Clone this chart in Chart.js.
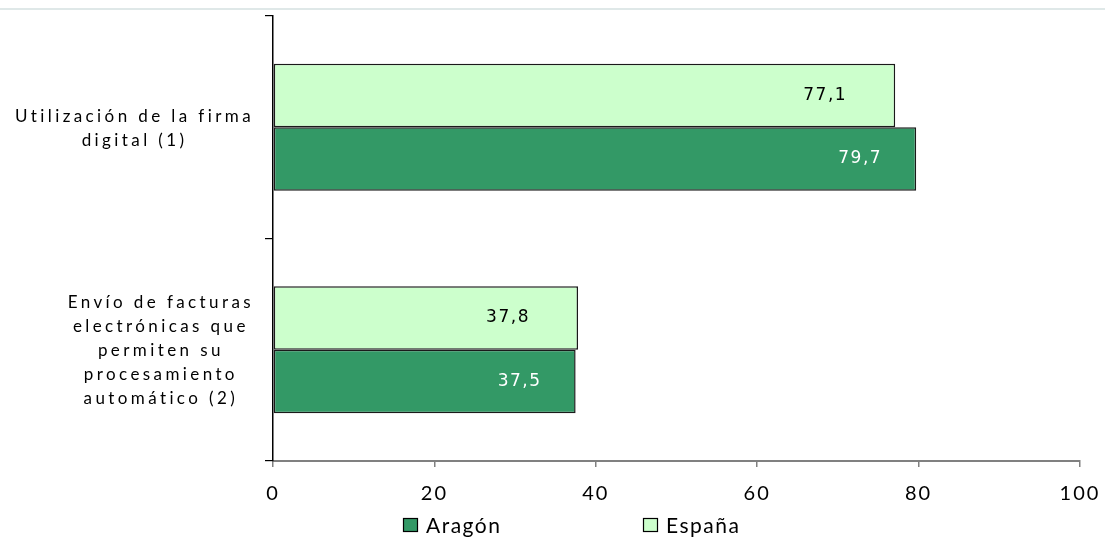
<!DOCTYPE html>
<html><head><meta charset="utf-8">
<script src="https://cdn.jsdelivr.net/npm/chart.js@4"></script>
<style>html,body{margin:0;padding:0;background:#fff;overflow:hidden}</style>
</head><body>
<canvas id="c" width="1105" height="537"></canvas>
<script>
const categories = [
  ["Utilización de la firma", "digital (1)"],
  ["Envío de facturas", "electrónicas que", "permiten su", "procesamiento", "automático (2)"]
];
const seriesNames = ["Aragón", "España"];
const aragonValues = [79.7, 37.5];
const espanaValues = [77.1, 37.8];
const xTickValues = [0, 20, 40, 60, 80, 100];

const COLORS = { "Aragón": "#339966", "España": "#CCFFCC" };
const LABEL_COLORS = { "Aragón": "#ffffff", "España": "#000000" };
const LABEL_OFFSETS = { "Aragón": 56, "España": 70 };

const fmt = v => v.toFixed(1).replace('.', ',');

const topLine = {
  id: 'topLine',
  beforeDraw(chart) {
    const ctx = chart.ctx;
    ctx.save();
    ctx.fillStyle = '#dfe8e8';
    ctx.fillRect(0, 8, chart.width, 2);
    ctx.restore();
    ctx.letterSpacing = '2px';
  },
  afterDraw(chart) {
    chart.ctx.letterSpacing = '0px';
  }
};

const catLabels = {
  id: 'catLabels',
  afterDraw(chart) {
    const ctx = chart.ctx;
    const y = chart.scales.y;
    ctx.save();
    ctx.font = '17px Lato';
    ctx.letterSpacing = '3.4px';
    ctx.fillStyle = '#000';
    ctx.textAlign = 'center';
    ctx.textBaseline = 'middle';
    const rightEdge = 254;
    const lh = 24;
    categories.forEach((lines, i) => {
      const maxW = Math.max(...lines.map(l => ctx.measureText(l).width));
      const cx = rightEdge - maxW / 2;
      const cy = y.getPixelForValue(i) + 1;
      const y0 = cy - (lines.length - 1) * lh / 2;
      lines.forEach((l, k) => ctx.fillText(l, cx, y0 + k * lh));
    });
    ctx.restore();
  }
};

const dataLabels = {
  id: 'dataLabels',
  afterDatasetsDraw(chart) {
    const ctx = chart.ctx;
    ctx.save();
    ctx.font = '17px "DejaVu Sans"';
    ctx.letterSpacing = '1.5px';
    ctx.textAlign = 'center';
    ctx.textBaseline = 'middle';
    chart.data.datasets.forEach((ds, di) => {
      const meta = chart.getDatasetMeta(di);
      meta.data.forEach((bar, i) => {
        ctx.fillStyle = LABEL_COLORS[ds.label];
        ctx.fillText(fmt(ds.data[i]), bar.x - LABEL_OFFSETS[ds.label], bar.y);
      });
    });
    ctx.restore();
  }
};

const customLegend = {
  id: 'customLegend',
  afterDraw(chart) {
    const ctx = chart.ctx;
    ctx.save();
    ctx.font = '21px Lato';
    ctx.letterSpacing = '1.5px';
    ctx.textBaseline = 'middle';
    ctx.textAlign = 'left';
    let x = 403;
    const cy = 525;
    seriesNames.forEach(name => {
      ctx.fillStyle = COLORS[name];
      ctx.fillRect(x, cy - 7, 15, 14);
      ctx.strokeStyle = '#000';
      ctx.lineWidth = 1.2;
      ctx.strokeRect(x + 0.5, cy - 6.5, 14, 13);
      ctx.fillStyle = '#000';
      ctx.fillText(name, x + 23, cy + 1);
      x += 240;
    });
    ctx.restore();
  }
};

new Chart(document.getElementById('c'), {
  type: 'bar',
  data: {
    labels: categories,
    datasets: [
      { label: "España", data: espanaValues, backgroundColor: COLORS["España"], borderColor: '#1a1a1a', borderWidth: 1.5, borderSkipped: false, barPercentage: 1.0, categoryPercentage: 0.57 },
      { label: "Aragón", data: aragonValues, backgroundColor: COLORS["Aragón"], borderColor: '#1a1a1a', borderWidth: 1.5, borderSkipped: false, barPercentage: 1.0, categoryPercentage: 0.57 }
    ]
  },
  options: {
    indexAxis: 'y',
    responsive: false,
    animation: false,
    devicePixelRatio: 1,
    layout: { padding: { top: 16, right: 25, left: 0, bottom: 0 } },
    plugins: { legend: { display: false }, tooltip: { enabled: false } },
    scales: {
      x: {
        type: 'linear', min: 0, max: 100,
        afterBuildTicks: s => { s.ticks = xTickValues.map(v => ({ value: v })); },
        afterFit: s => { s.height = 76; s.paddingLeft = 0; s.paddingRight = 0; },
        grid: { drawOnChartArea: false, drawTicks: true, tickLength: 6, color: '#808080', lineWidth: 1.5 },
        border: { color: '#808080', width: 2 },
        ticks: { font: { family: 'Lato', size: 20 }, color: '#000', padding: 15, maxRotation: 0 }
      },
      y: {
        type: 'category',
        afterFit: s => { s.width = 273; s.paddingTop = 0; s.paddingBottom = 0; },
        grid: { offset: true, drawOnChartArea: false, drawTicks: true, tickLength: 8, color: '#000', lineWidth: 1.2 },
        border: { color: '#000', width: 1.5 },
        ticks: { display: false }
      }
    }
  },
  plugins: [topLine, catLabels, dataLabels, customLegend]
});
</script>
</body></html>
